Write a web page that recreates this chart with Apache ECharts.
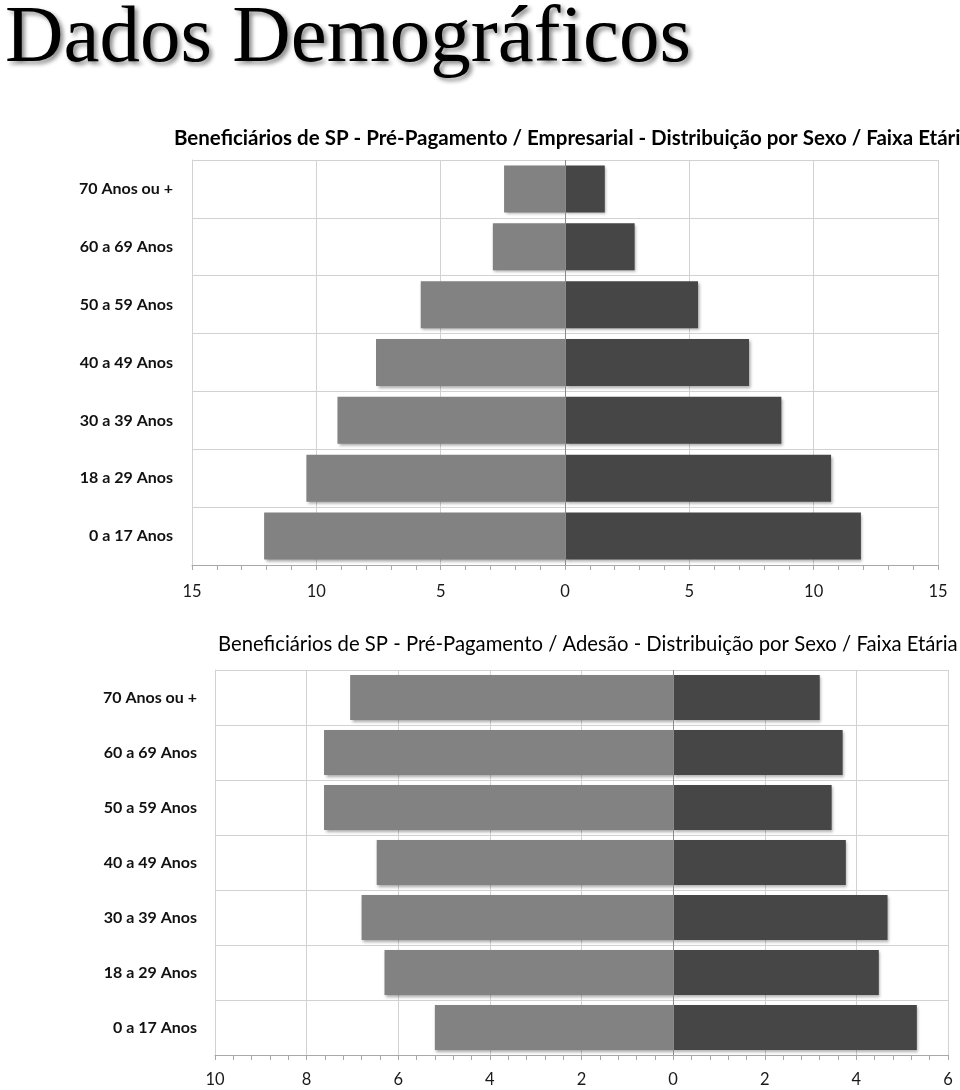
<!DOCTYPE html>
<html>
<head>
<meta charset="utf-8">
<script src="https://cdn.jsdelivr.net/npm/echarts@6/dist/echarts.min.js"></script>
<style>
html,body{margin:0;padding:0;background:#fff;}
#chart{width:960px;height:1090px;}
</style>
</head>
<body>
<div id="chart"></div>
<script>
// ---- data ----
const mainTitle = 'Dados Demográficos';
const title1 = 'Beneficiários de SP - Pré-Pagamento / Empresarial - Distribuição por Sexo / Faixa Etária';
const title2 = 'Beneficiários de SP - Pré-Pagamento / Adesão - Distribuição por Sexo / Faixa Etária';
const categories = ['70 Anos ou +', '60 a 69 Anos', '50 a 59 Anos', '40 a 49 Anos', '30 a 39 Anos', '18 a 29 Anos', '0 a 17 Anos'];
// Chart 1 (Empresarial), percent
const emp_left  = [2.45, 2.9, 5.8, 7.6, 9.15, 10.4, 12.1];
const emp_right = [1.6, 2.8, 5.35, 7.4, 8.7, 10.7, 11.9];
// Chart 2 (Adesão), percent
const ades_left  = [7.05, 7.62, 7.62, 6.47, 6.8, 6.3, 5.2];
const ades_right = [3.2, 3.7, 3.46, 3.77, 4.68, 4.49, 5.32];
const axis1 = {min: -15, max: 15, interval: 5};
const axis2 = {min: -10, max: 6, interval: 2};

const leftColor = '#828282';
const rightColor = '#464646';
const gridColor = '#d2d2d2';
const font = 'Lato, "Open Sans", sans-serif';

function neg(a){ return a.map(v => -v); }

const chart = echarts.init(document.getElementById('chart'), null, {renderer: 'canvas'});

function xAxisFor(gi, ax, margin, minorSplit){
  return {
    type: 'value', gridIndex: gi, min: ax.min, max: ax.max, interval: ax.interval,
    axisLine: {show: true, lineStyle: {color: '#a8a8a8', width: 1}},
    axisTick: {show: true, length: 5, lineStyle: {color: '#a8a8a8'}},
    minorTick: {show: true, splitNumber: minorSplit, length: 5, lineStyle: {color: '#a8a8a8'}},
    splitLine: {show: true, lineStyle: {color: gridColor, width: 1}},
    axisLabel: {color: '#1a1a1a', fontFamily: font, fontSize: 16.5, margin: margin,
      formatter: v => String(Math.abs(v))}
  };
}
function yAxisFor(gi, margin){
  return {
    type: 'category', gridIndex: gi, data: categories, inverse: true,
    axisLine: {show: true, onZero: false, lineStyle: {color: gridColor}},
    axisTick: {show: false},
    splitLine: {show: true, lineStyle: {color: gridColor, width: 1}},
    axisLabel: {color: '#111', fontFamily: font, fontSize: 16, fontWeight: 'bold', margin: margin}
  };
}
const barShadow = {shadowColor: 'rgba(0,0,0,0.35)', shadowBlur: 3, shadowOffsetX: 1.5, shadowOffsetY: 2};
function series(gi, data, color, stack, bw, withZero){
  const s = {
    type: 'bar', xAxisIndex: gi, yAxisIndex: gi, stack: stack, data: data, barWidth: bw,
    itemStyle: Object.assign({color: color}, barShadow),
    silent: true, animation: false
  };
  if (withZero) {
    s.markLine = {silent: true, symbol: 'none', label: {show: false},
      lineStyle: {color: '#8a8a8a', width: 1, type: 'solid'},
      data: [{xAxis: 0}]};
  }
  return s;
}

chart.setOption({
  animation: false,
  backgroundColor: '#fff',
  title: [
    {text: mainTitle, left: 0, top: -6,
     textStyle: {fontFamily: '"Liberation Serif", "Times New Roman", serif', fontSize: 81, fontWeight: 'normal', color: '#000',
       textShadowColor: 'rgba(0,0,0,0.45)', textShadowBlur: 4, textShadowOffsetX: 3, textShadowOffsetY: 3}},
    {text: title1, left: 169, top: 123,
     textStyle: {fontFamily: font, fontSize: 20.5, fontWeight: 'bold', color: '#000',
       width: 814, overflow: 'truncate', ellipsis: ''}},
    {text: title2, left: 213, top: 629,
     textStyle: {fontFamily: font, fontSize: 20.3, fontWeight: 'normal', color: '#000'}}
  ],
  grid: [
    {left: 192, right: 22, top: 160, height: 405, containLabel: false},
    {left: 215, right: 12, top: 670, height: 385, containLabel: false}
  ],
  xAxis: [xAxisFor(0, axis1, 18, 5), xAxisFor(1, axis2, 16, 5)],
  yAxis: [yAxisFor(0, 19), yAxisFor(1, 18)],
  series: [
    series(0, neg(emp_left), leftColor, 'e', 47, true),
    series(0, emp_right, rightColor, 'e', 47, false),
    series(1, neg(ades_left), leftColor, 'a', 45, true),
    series(1, ades_right, rightColor, 'a', 45, false)
  ]
});
</script>
</body>
</html>
